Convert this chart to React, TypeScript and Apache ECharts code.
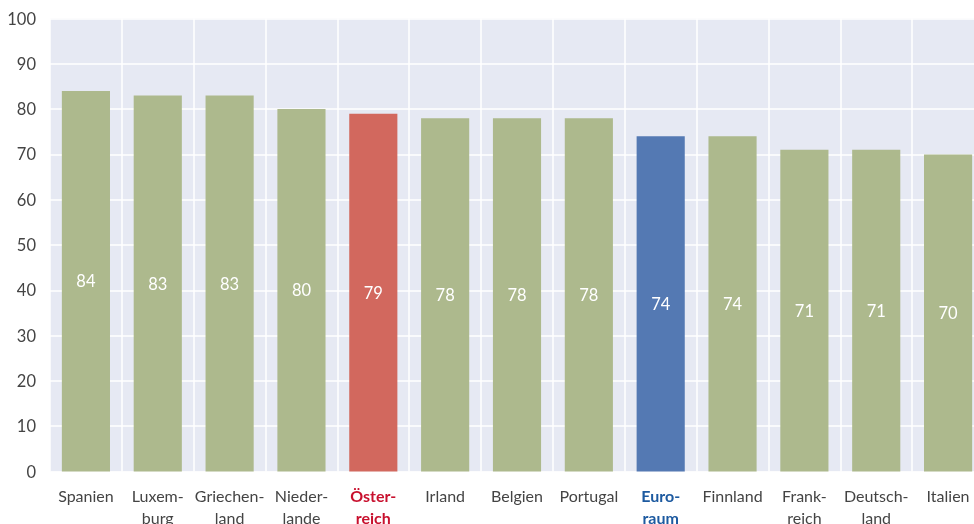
import React, { useEffect, useRef } from "react";
import * as echarts from "echarts";

const categories = [
  "Spanien",
  "Luxem-\nburg",
  "Griechen-\nland",
  "Nieder-\nlande",
  "Öster-\nreich",
  "Irland",
  "Belgien",
  "Portugal",
  "Euro-\nraum",
  "Finnland",
  "Frank-\nreich",
  "Deutsch-\nland",
  "Italien",
];
const values = [84, 83, 83, 80, 79, 78, 78, 78, 74, 74, 71, 71, 70];
const highlightAustria = "Öster-\nreich";
const highlightEuro = "Euro-\nraum";

const GREEN = "#ADB98D";
const RED = "#D2685E";
const BLUE = "#5479B3";
const RED_TEXT = "#C8102E";
const BLUE_TEXT = "#1D5AA0";
const FONT = "Lato, 'Open Sans', sans-serif";

export default function App() {
  const ref = useRef<HTMLDivElement>(null);
  useEffect(() => {
    if (!ref.current) return;
    const chart = echarts.init(ref.current, undefined, { renderer: "svg" });
    chart.setOption({
      animation: false,
      grid: {
        left: 50,
        right: -10,
        top: 18.5,
        bottom: 52.5,
        containLabel: false,
        outerBoundsMode: "none",
        show: true,
        backgroundColor: "#E6E9F3",
        borderWidth: 0,
      },
      xAxis: {
        type: "category",
        data: categories.map((c) => {
          if (c === highlightAustria) return { value: c, textStyle: { color: RED_TEXT, fontWeight: "bold" } };
          if (c === highlightEuro) return { value: c, textStyle: { color: BLUE_TEXT, fontWeight: "bold" } };
          return c;
        }),
        axisLine: { show: false },
        axisTick: { show: false },
        splitLine: { show: true, lineStyle: { color: "#ffffff", width: 1.5 } },
        axisLabel: {
          interval: 0,
          color: "#444444",
          fontSize: 16,
          fontFamily: FONT,
          lineHeight: 22,
          margin: 13,
          verticalAlign: "top",
        },
      },
      yAxis: {
        type: "value",
        min: 0,
        max: 100,
        interval: 10,
        axisLine: { show: false },
        axisTick: { show: false },
        splitLine: { show: true, lineStyle: { color: "#ffffff", width: 1.5 } },
        axisLabel: { color: "#444444", fontSize: 16.5, fontFamily: FONT, margin: 14 },
      },
      series: [
        {
          type: "bar",
          barCategoryGap: "33%",
          data: values.map((v, i) => ({
            value: v,
            itemStyle: {
              color: categories[i] === highlightAustria ? RED : categories[i] === highlightEuro ? BLUE : GREEN,
            },
          })),
          label: {
            show: true,
            position: "inside",
            color: "#ffffff",
            fontSize: 16.5,
            fontFamily: FONT,
          },
        },
      ],
    });
    return () => chart.dispose();
  }, []);
  return (
    <div
      ref={ref}
      style={{ position: "fixed", left: 0, top: 0, width: 974, height: 524 }}
    />
  );
}
